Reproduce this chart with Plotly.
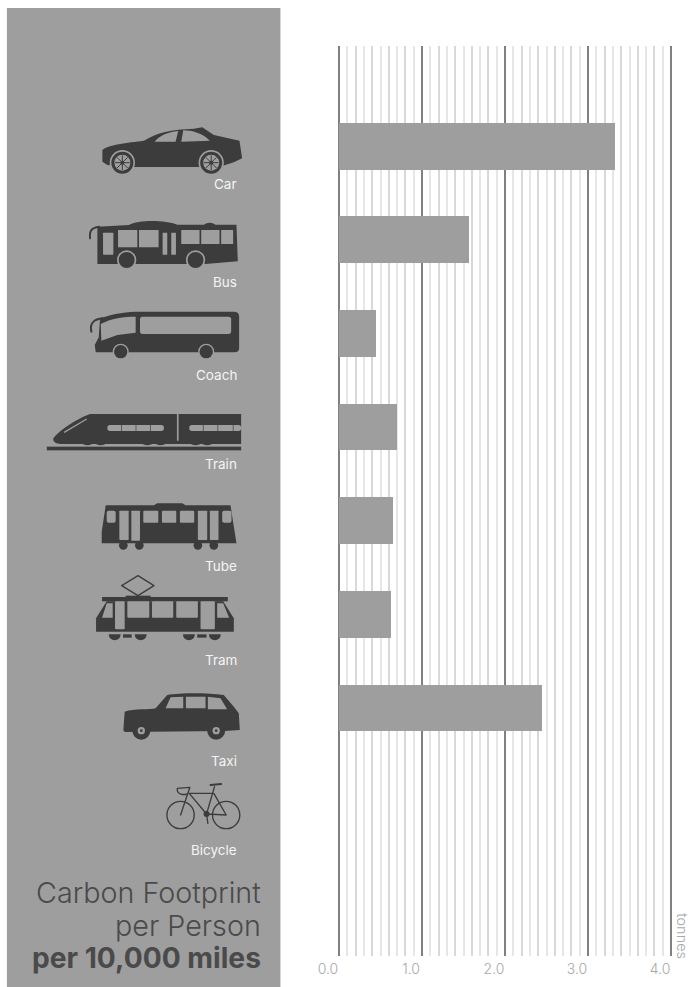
import base64
import plotly.graph_objects as go

categories = ["Car", "Bus", "Coach", "Train", "Tube", "Tram", "Taxi", "Bicycle"]
tonnes = [3.32, 1.57, 0.45, 0.70, 0.65, 0.63, 2.44, 0.0]
x_ticks = [0, 1, 2, 3, 4]
x_tick_labels = ["0.0", "1.0", "2.0", "3.0", "4.0"]
title_lines = ["Carbon Footprint", "per Person", "per 10,000 miles"]
unit = "tonnes"

W, H = 690, 987
PAD = 3                       # px the plot area reaches past the 0 and 4 gridlines
X0, X4 = 338.7, 671.3         # page x of the 0 and 4 gridlines
L, R, T, B = X0 - PAD, X4 + PAD, 46, 956
PPU = (X4 - X0) / 4
X_RANGE = [-PAD / PPU, 4 + PAD / PPU]
DARK = "#3c3c3c"
PANEL = "#9e9e9e"
FONT = "Inter"


def px(x):
    return (x - L) / (R - L)


def py(y):
    return (B - y) / (B - T)


def wheel(cx, cy, r, ring):
    return (f'<circle cx="{cx}" cy="{cy}" r="{ring}" fill="{PANEL}"/>'
            f'<circle cx="{cx}" cy="{cy}" r="{r}" fill="{DARK}"/>')


def car_wheel(cx, cy):
    s = wheel(cx, cy, 33, 38) + f'<circle cx="{cx}" cy="{cy}" r="24" fill="{PANEL}"/>'
    for d, e in [(22, 0), (0, 22), (16, 16), (16, -16)]:
        s += (f'<line x1="{cx-d}" y1="{cy-e}" x2="{cx+d}" y2="{cy+e}" '
              f'stroke="{DARK}" stroke-width="3"/>')
    return s + f'<circle cx="{cx}" cy="{cy}" r="6" fill="{DARK}"/>'


def win(x0, y0, x1, y1, r=4):
    return (f'<rect x="{x0}" y="{y0}" width="{x1-x0}" height="{y1-y0}" rx="{r}" '
            f'fill="{PANEL}"/>')


def bar(x0, y0, x1, y1):
    return f'<rect x="{x0}" y="{y0}" width="{x1-x0}" height="{y1-y0}" fill="{DARK}"/>'


def body(d):
    return f'<path d="{d}" fill="{DARK}"/>'


def hole(d):
    return f'<path d="{d}" fill="{PANEL}"/>'


def line(d, w=4):
    return (f'<path d="{d}" fill="none" stroke="{DARK}" stroke-width="{w}" '
            'stroke-linecap="round" stroke-linejoin="round"/>')


# Pictograms, in the 3x coordinates of a crop; (viewBox, page y offset, markup)
ICONS = {
    "Car": ((295, 75, 440, 160), 100,
            body("M305,150 C320,135 380,128 430,122 C470,98 510,88 580,86 L605,82 L640,105 L717,122 "
                 "L725,175 L700,187 L665,198 L600,201 L400,201 L320,195 L305,185 Z")
            + hole("M462,125 C480,105 500,97 533,93 L525,125 Z M542,125 L548,91 C575,91 605,100 628,122 Z")
            + car_wheel(365, 188) + car_wheel(632, 188)),
    "Bus": ((258, 355, 460, 155), 100,
            body("M290,380 L385,375 C410,360 490,358 530,374 L610,374 C620,366 635,366 645,374 L708,374 "
                 "L712,484 L615,492 L290,492 Z")
            + line("M268,415 C265,390 275,383 295,380", 6)
            + win(307, 398, 338, 464, 2) + win(352, 390, 410, 442, 1) + win(415, 390, 474, 442, 1)
            + win(486, 398, 500, 464, 1) + win(512, 398, 526, 464, 1) + win(542, 390, 597, 432, 1)
            + win(602, 390, 657, 432, 1) + win(662, 390, 698, 432, 1)
            + wheel(378, 480, 24, 29) + wheel(585, 480, 24, 29)),
    "Coach": ((262, 628, 460, 152), 100,
              body("M298,655 C340,640 380,635 420,635 L700,635 Q716,635 716,650 L716,745 Q716,757 702,757 "
                   "L285,757 L282,735 L294,712 Z")
              + line("M272,695 C265,665 285,658 305,655", 6)
              + hole("M302,722 L300,672 C330,655 370,650 405,650 L405,698 L350,705 Z")
              + win(418, 650, 692, 702, 8)
              + wheel(360, 755, 20, 24) + wheel(617, 755, 20, 24)),
    "Train": ((135, 35, 590, 120), 400,
              body("M158,115 C170,95 230,55 268,42 L722,42 L722,132 L180,132 C165,132 155,125 158,115 Z")
              + bar(138, 140, 722, 151)
              + "".join(f'<ellipse cx="{c}" cy="128" rx="16" ry="8" fill="{DARK}"/>'
                        for c in (260, 300, 440, 480, 585, 620))
              + hole("M529,42 h5 v80 h-5 Z")
              + f'<path d="M190,97 L258,57" stroke="{PANEL}" stroke-width="4"/>'
              + win(320, 75, 490, 93, 8) + win(566, 75, 722, 93, 8)
              + bar(361, 75, 363, 93) + bar(405, 75, 407, 93) + bar(448, 75, 450, 93)
              + bar(607, 75, 609, 93) + bar(651, 75, 653, 93) + bar(697, 75, 699, 93)),
    "Tube": ((298, 303, 415, 150), 400,
             body("M315,316 L460,316 L470,310 L545,310 L555,316 L690,316 L708,430 L303,430 L303,395 Z")
             + win(318, 332, 345, 368, 6) + win(356, 332, 384, 420, 2) + win(392, 332, 418, 422, 2)
             + win(428, 332, 473, 368, 3) + win(484, 332, 527, 368, 3) + win(538, 332, 581, 368, 3)
             + win(592, 332, 620, 420, 2) + win(628, 332, 654, 420, 2) + win(665, 332, 693, 368, 6)
             + "".join(f'<circle cx="{c}" cy="436" r="13" fill="{DARK}"/>' for c in (368, 416, 592, 640))),
    "Tram": ((280, 520, 425, 206), 400,
             line("M412,527 L460,557 L412,587 L363,557 Z", 4)
             + bar(304, 591, 682, 604) + bar(375, 587, 450, 592)
             + body("M318,604 L668,604 L700,655 L700,695 L286,695 L286,655 Z")
             + hole("M318,610 L336,610 L336,653 L304,653 Z M650,610 L668,610 L686,653 L650,653 Z")
             + win(343, 604, 372, 688, 3) + win(380, 604, 446, 653, 3) + win(454, 604, 518, 653, 3)
             + win(527, 604, 592, 653, 3) + win(600, 604, 643, 688, 3)
             + "".join(f'<path d="M{c-18},703 h36 a18,18 0 0 1 -36,0 Z" fill="{DARK}"/>'
                       for c in (342, 420, 565, 643))
             + bar(367, 703, 393, 713) + bar(590, 703, 618, 713)),
    "Taxi": ((360, 30, 365, 155), 680,
            body("M372,95 C400,85 450,90 465,85 L500,45 C540,38 620,38 670,45 L700,80 L715,100 L718,150 "
                 "L672,153 L372,156 L368,150 Z")
            + hole("M495,85 L510,52 L548,50 L548,85 Z M556,50 L615,50 L615,85 L556,85 Z "
                   "M622,50 L660,55 L680,88 L622,88 Z")
            + f'<circle cx="422" cy="152" r="27" fill="{DARK}"/><circle cx="422" cy="152" r="11" fill="{PANEL}"/>'
            + f'<circle cx="422" cy="152" r="4" fill="{DARK}"/><circle cx="647" cy="152" r="27" fill="{DARK}"/>'
            + f'<circle cx="647" cy="152" r="11" fill="{PANEL}"/><circle cx="647" cy="152" r="4" fill="{DARK}"/>'),
    "Bicycle": ((490, 305, 235, 150), 680,
                f'<circle cx="540" cy="405" r="41" fill="none" stroke="{DARK}" stroke-width="4"/>'
                f'<circle cx="677" cy="405" r="41" fill="none" stroke="{DARK}" stroke-width="4"/>'
                f'<circle cx="618" cy="402" r="9" fill="{DARK}"/>'
                + line("M630,315 L662,312", 6)
                + line("M642,320 L618,402 L677,405 L640,340 L566,340 L618,402 M530,325 L568,322 L540,405 "
                       "M530,325 C528,345 550,345 560,342 M618,402 L622,430", 4)),
}

# Where each mode's label sits on the page
label_y = {"Car": 184, "Bus": 282, "Coach": 375, "Train": 464, "Tube": 566,
           "Tram": 660, "Taxi": 761, "Bicycle": 850}

images = []
for name in categories:
    (vx, vy, vw, vh), off, markup = ICONS[name]
    svg = (f'<svg xmlns="http://www.w3.org/2000/svg" width="{vw}" height="{vh}" '
           f'viewBox="{vx} {vy} {vw} {vh}">{markup}</svg>')
    uri = "data:image/svg+xml;base64," + base64.b64encode(svg.encode()).decode()
    images.append(dict(source=uri, xref="paper", yref="paper", x=px(vx / 3), y=py(vy / 3 + off),
                       sizex=(vw / 3) / (R - L), sizey=(vh / 3) / (B - T), sizing="stretch",
                       xanchor="left", yanchor="top", layer="above"))

annotations = []
for name in categories:
    annotations.append(dict(text=name, x=px(238.5), y=py(label_y[name]), xref="paper", yref="paper",
                            xanchor="right", yanchor="middle", showarrow=False,
                            font=dict(family=FONT, size=13.5, color="#f4f4f4")))
for line_text, y, weight, size in zip(title_lines, (892, 925, 958), (300, 300, 700), (28.7, 28.7, 28.2)):
    annotations.append(dict(text=line_text, x=px(263), y=py(y), xref="paper", yref="paper",
                            xanchor="right", yanchor="middle", showarrow=False,
                            font=dict(family=FONT, size=size, color="#4a4a4a", weight=weight)))
annotations.append(dict(text=unit, x=px(683), y=py(936), xref="paper", yref="paper", textangle=90,
                        xanchor="center", yanchor="middle", showarrow=False,
                        font=dict(family=FONT, size=14.5, color="#a8a8a8", weight=300)))

fig = go.Figure(go.Bar(x=tonnes, y=list(range(len(categories))), orientation="h", width=0.5,
                       marker=dict(color=PANEL, line=dict(width=0)),
                       text=categories, textposition="none", hoverinfo="x+text"))

# The overlaid x axis carries the labels and the dark whole-number lines, so they sit over the fine lines
fig.add_trace(go.Scatter(x=[0], y=[0], xaxis="x2", mode="markers", marker=dict(opacity=0),
                         hoverinfo="skip", showlegend=False))

fig.update_layout(
    width=W, height=H, autosize=False, showlegend=False, paper_bgcolor="white", plot_bgcolor="white",
    margin=dict(l=L, r=W - R, t=T, b=H - B, pad=0, autoexpand=False),
    xaxis=dict(range=X_RANGE, showticklabels=False, ticks="", showline=False, zeroline=False,
               tick0=0, dtick=0.2, showgrid=True, gridcolor="#d8d8d8", gridwidth=1.5,
               minor=dict(tick0=0.1, dtick=0.2, showgrid=True, gridcolor="#e6e6e6", gridwidth=1.5)),
    xaxis2=dict(range=X_RANGE, overlaying="x", side="bottom", anchor="y", tickvals=x_ticks, ticktext=x_tick_labels,
                ticks="", showline=False, zeroline=False, showgrid=True, gridcolor="#808080", gridwidth=1.6,
                ticklabelshift=-11, ticklabelstandoff=3,
                tickfont=dict(family=FONT, size=14, color="#a8a8a8", weight=300)),
    yaxis=dict(range=[8.65, -1.07], showgrid=False, zeroline=False, showticklabels=False, ticks=""),
    shapes=[dict(type="rect", xref="paper", yref="paper", x0=px(6), x1=px(280), y0=py(8), y1=py(987),
                 fillcolor=PANEL, line=dict(width=0), layer="below")],
    images=images, annotations=annotations,
    bargap=0,
)

fig.write_html("out.html", config=dict(displayModeBar=False),
               post_script="document.body.style.margin='0';")
